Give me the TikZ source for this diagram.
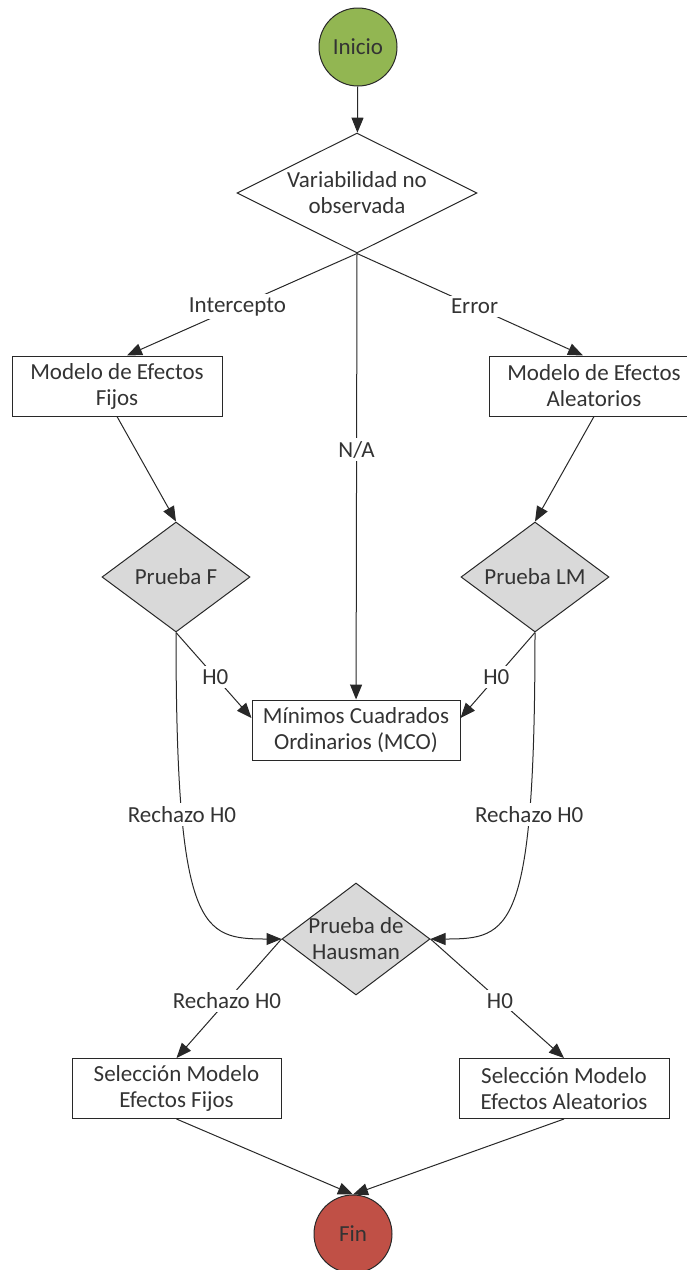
\documentclass[tikz,border=0pt]{standalone}
\usepackage{fontspec}
\setmainfont{Carlito}
\usetikzlibrary{shapes.geometric,arrows.meta,positioning}
\definecolor{startgreen}{RGB}{146,182,82}
\definecolor{endred}{RGB}{192,80,70}
\definecolor{linegray}{RGB}{40,40,40}

\begin{document}
\begin{tikzpicture}
[x=1pt,y=-1pt,
font=\fontsize{23}{26}\selectfont,
%
terminal/.style={shape=circle,draw=linegray,minimum size=78pt,inner sep=0pt,text=black!80,line width=1pt},
inicio/.style={terminal,fill=startgreen},
fin/.style={terminal,fill=endred},
process/.style={shape=rectangle,draw=linegray,minimum width=210pt,minimum height=60pt,align=center,inner sep=2pt,text=black!80,line width=1pt},
decision/.style={shape=diamond,draw=linegray,inner sep=-4pt,align=center,text=black!80,line width=1pt},
test/.style={decision,fill=black!15,aspect=1.32,minimum width=148pt,minimum height=110pt},
lbl/.style={fill=white,inner sep=3pt,text=black!80},
%
flow/.style={draw=linegray,line width=1pt,-{Triangle[length=15pt,width=12pt]}},
every edge/.style={flow}]
%
\useasboundingbox (0,0) rectangle (687,1270);
% start
\node (inicio) [inicio] at (358,47) {Inicio};
\node (var) [decision,aspect=2,minimum width=240pt,minimum height=120pt] at (357,193) {Variabilidad no\\observada};
% models
\node (mef) [process] at (117,386) {Modelo de Efectos\\Fijos};
\node (mea) [process] at (594,386) {Modelo de Efectos\\Aleatorios};
% tests
\node (pf) [test] at (176,577) {Prueba F};
\node (plm) [test] at (535,577) {Prueba LM};
\node (mco) [process,minimum width=208pt] at (356,730) {Mínimos Cuadrados\\Ordinarios (MCO)};
\node (haus) [test,minimum height=112pt] at (356,939) {Prueba de\\Hausman};
% selection
\node (sef) [process,minimum width=209pt] at (176.5,1088.5) {Selección Modelo\\Efectos Fijos};
\node (sea) [process] at (564,1088.5) {Selección Modelo\\Efectos Aleatorios};
\node (fin) [fin] at (353,1234) {Fin};
% edges
\path
(inicio) edge (var)
(var.south) edge node[lbl,pos=.52] {Intercepto} ([xshift=10pt]mef.north)
(var.south) edge node[lbl,pos=.52] {Error} ([xshift=-11pt]mea.north)
(var.south) edge node[lbl,pos=.44] {N/A} (mco)
(mef.south) edge (pf.north)
(mea.south) edge (plm.north)
(pf.south) edge node[lbl,pos=.52] {H0} ([yshift=12pt]mco.west)
(plm.south) edge node[lbl,pos=.52] {H0} ([yshift=12pt]mco.east)
(haus.west) edge node[lbl,pos=.52] {Rechazo H0} (sef.north)
(haus.east) edge node[lbl,pos=.52] {H0} (sea.north)
(sef.south) edge (fin.north)
(sea.south) edge (fin.north);
%
\draw[flow] (pf.south) .. controls +(0,300) and +(-80,0) .. node[lbl,pos=.265] {Rechazo H0} (haus.west);
\draw[flow] (plm.south) .. controls +(0,300) and +(80,0) .. node[lbl,pos=.265] {Rechazo H0} (haus.east);
\end{tikzpicture}
\end{document}
